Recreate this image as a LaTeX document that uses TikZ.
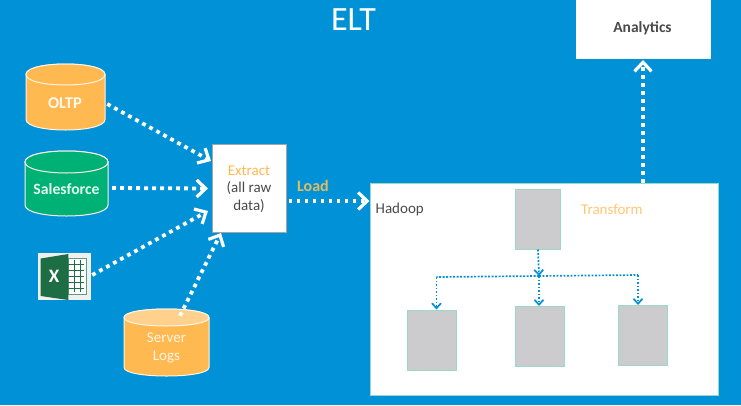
\documentclass[tikz,border=0pt]{standalone}
\usepackage{fontspec}
\setmainfont{Carlito}
\usetikzlibrary{arrows.meta,calc}
\definecolor{bgblue}{HTML}{0091D6}
\definecolor{dborange}{HTML}{FFB950}
\definecolor{dbgreen}{HTML}{00B176}
\definecolor{txtgray}{HTML}{4A4A4A}
\definecolor{boxgray}{HTML}{CCCCCE}
\definecolor{boxline}{HTML}{9AD8C8}
\definecolor{xlgreen}{HTML}{1E6E45}
\definecolor{loadgold}{HTML}{E3BC62}
\tikzset{
  flow/.style={draw=white, line width=3.8pt, dash pattern=on 3.8pt off 4.2pt,
    -{Straight Barb[length=9pt,width=17pt,line width=3.2pt]}},
  inner flow/.style={draw=bgblue, line width=1.7pt, dash pattern=on 1.8pt off 1.7pt},
  inner tip/.style={inner flow, -{Straight Barb[length=5pt,width=9pt,line width=1.7pt]}},
  graybox/.style={draw=boxline, fill=boxgray, line width=1pt, inner sep=0pt},
  label text/.style={inner sep=0pt, font=\fontsize{15}{18}\selectfont},
  cyl edge/.style={draw=white!85!dborange, line width=1pt},
  cyl frame/.style={inner sep=0pt},
}
% left, right, top, bottom, half-height of the end ellipse, body colour, end colour
\newcommand{\dbdrum}[7]{%
  \pgfmathsetmacro{\cyk}{#5*1.3333}
  \pgfmathsetmacro{\cyt}{#3+#5}
  \pgfmathsetmacro{\cyb}{#4-#5}
  \pgfmathsetmacro{\cyu}{\cyt-\cyk}
  \pgfmathsetmacro{\cyd}{\cyt+\cyk}
  \pgfmathsetmacro{\cye}{\cyb+\cyk}
  \draw[cyl edge, fill=#6] (#1,\cyt) .. controls (#1,\cyu) and (#2,\cyu) .. (#2,\cyt)
     -- (#2,\cyb) .. controls (#2,\cye) and (#1,\cye) .. (#1,\cyb) -- cycle;
  \draw[cyl edge, fill=#7] (#1,\cyt) .. controls (#1,\cyu) and (#2,\cyu) .. (#2,\cyt)
     .. controls (#2,\cyd) and (#1,\cyd) .. (#1,\cyt) -- cycle;
}
\begin{document}
\begin{tikzpicture}[x=1pt,y=-1pt]
\useasboundingbox (0,0) rectangle (741,405);
\fill[bgblue] (0,0) rectangle (741,405);
\begin{scope}
\clip (0,0) rectangle (741,405);
\node[draw=white!85!dborange, fill=white, line width=1pt, minimum width=134pt, minimum height=68pt, inner sep=0pt] (analytics) at (643,24) {};
\end{scope}
\node[inner sep=0pt, font=\fontsize{15.5}{18}\selectfont\bfseries, text=txtgray] (analyticstext) at (642.5,28) {Analytics};
\node[inner sep=0pt, text=white, font=\fontsize{34}{38}\selectfont] (title) at (353.5,20) {ELT};

% sources
\dbdrum{26}{105}{64}{130}{10.5}{dborange}{dborange}
\node[cyl frame, minimum width=79pt, minimum height=66pt] (oltp) at (65.5,97) {};
\node[text=white!90!dborange, inner sep=0pt, font=\fontsize{16.5}{19}\selectfont\bfseries] (oltptext) at (65,103) {OLTP};
\dbdrum{25}{108}{151}{216}{11}{dbgreen}{dbgreen}
\node[cyl frame, minimum width=83pt, minimum height=65pt] (sales) at (66.5,183.5) {};
\node[text=white!90!dbgreen, inner sep=0pt, font=\fontsize{15.7}{18}\selectfont\bfseries] (salestext) at (66.5,189.5) {Salesforce};
\dbdrum{124}{209}{309}{376}{8.5}{dborange}{dborange!65!white}
\node[cyl frame, minimum width=85pt, minimum height=67pt] (logs) at (166.5,342.5) {};
\node[text=white!85!dborange, inner sep=0pt, align=center, font=\fontsize{15}{18.5}\selectfont] (logstext) at (166.5,348) {Server\\Logs};

% excel icon
\node[fill=white!94!black, minimum width=53pt, minimum height=47pt, inner sep=0pt] (excel) at (64.5,276.5) {};
\draw[xlgreen!70!white, line width=.8pt, fill=white] (68,258.5) -- (86.5,258.5) -- (86.5,294.5) -- (68,294.5) -- cycle;
\foreach \yy in {264,270,276,282,288} \draw[xlgreen, line width=1pt] (68,\yy) -- (84,\yy);
\draw[xlgreen, line width=.8pt] (74,260) -- (74,292) (80,260) -- (80,292);
\fill[xlgreen] (40.7,258.5) -- (68.3,254) -- (68.3,300) -- (40.7,296) -- cycle;
\node[text=white, inner sep=0pt, font=\fontsize{19}{20}\selectfont\bfseries] (xl) at (54,276.5) {X};

% extract
\node[draw=boxgray!70!txtgray, fill=white, line width=1pt, minimum width=74pt, minimum height=88pt, inner sep=0pt] (extract) at (249,188) {};
\node[label text, text=dborange] (extracttext) at (249,171) {Extract};
\node[label text, text=txtgray, align=center, font=\fontsize{15}{18}\selectfont] (allraw) at (249,197) {(all raw\\data)};

% hadoop
\node[draw=boxline, fill=white, line width=1pt, minimum width=348pt, minimum height=212pt, inner sep=0pt] (hadoop) at (544,289) {};
\node[label text, text=txtgray, anchor=west] (hadooptext) at (375.5,209.5) {Hadoop};
\node[label text, text=dborange!80!white, anchor=west] (transform) at (581,209.5) {Transform};
\node[label text, text=loadgold, anchor=west, font=\fontsize{16}{18}\selectfont\bfseries] (load) at (297,185.5) {Load};

\node[graybox, minimum width=45pt, minimum height=60pt] (top) at (538,219) {};
\node[graybox, minimum width=49pt, minimum height=60pt] (left) at (431.5,340) {};
\node[graybox, minimum width=49.5pt, minimum height=60pt] (mid) at (540.2,336.5) {};
\node[graybox, minimum width=49.5pt, minimum height=60pt] (right) at (643.2,335.5) {};

% inner connectors
\coordinate (branch) at (539,276);
\coordinate (leftturn) at (436.5,277);
\coordinate (rightturn) at (638,275);
\draw[inner tip] (top.south) -- (branch);
\draw[inner flow] (branch) -- (leftturn);
\draw[inner flow] (branch) -- (rightturn);
\draw[inner tip] (leftturn) -- (leftturn |- left.north);
\draw[inner tip] (branch) -- (branch |- mid.north);
\draw[inner tip] (rightturn) -- (rightturn |- right.north);

% outer connectors
\coordinate (extractinA) at (211,161);
\coordinate (extractinB) at (208,188.5);
\coordinate (extractinC) at (208,211);
\coordinate (extractinD) at (221,233);
\draw[flow] ([xshift=2pt,yshift=-7pt]oltp.east) -- (extractinA);
\draw[flow] ([xshift=4pt,yshift=-4.5pt]sales.east) -- (extractinB);
\draw[flow] ([xshift=1pt,yshift=1.5pt]excel.east) -- (extractinC);
\draw[flow] ([xshift=13.5pt,yshift=-7pt]logs.north) -- (extractinD);
\draw[flow] ([xshift=2pt,yshift=-13pt]extract.east) -- ([yshift=88pt]hadoop.west);
\coordinate (hadoopout) at (643,183);
\draw[flow, shorten >=1.5pt] (hadoopout) -- (hadoopout |- analytics.south);
\end{tikzpicture}
\end{document}
